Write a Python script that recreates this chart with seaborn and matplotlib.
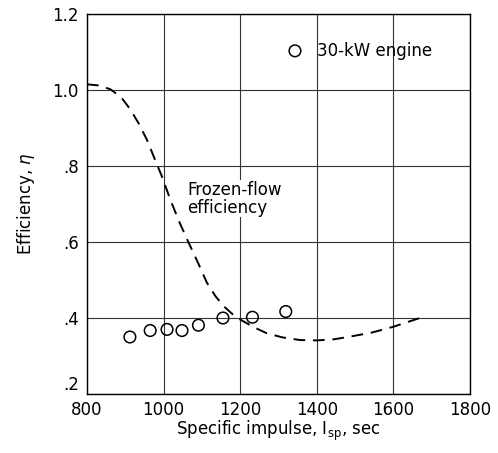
import matplotlib
matplotlib.use("Agg")
import matplotlib.pyplot as plt
import seaborn as sns
import pandas as pd

# Data
engine_isp = [912, 965, 1009, 1048, 1091, 1155, 1232, 1319]
engine_eff = [0.350, 0.367, 0.370, 0.367, 0.381, 0.400, 0.402, 0.417]

frozen_isp = [800, 830, 861, 890, 913, 935, 956, 975, 995, 1017, 1040, 1065, 1090, 1113,
              1135, 1156, 1180, 1200, 1235, 1269, 1310, 1356, 1400, 1445, 1487, 1545, 1600, 1669]
frozen_eff = [1.015, 1.012, 1.002, 0.980, 0.949, 0.912, 0.870, 0.823, 0.774, 0.713, 0.655, 0.599,
              0.545, 0.493, 0.458, 0.432, 0.410, 0.396, 0.376, 0.360, 0.349, 0.342, 0.341, 0.344,
              0.351, 0.362, 0.377, 0.400]

x_ticks = [800, 1000, 1200, 1400, 1600, 1800]
y_ticks = [0.2, 0.4, 0.6, 0.8, 1.0, 1.2]
y_tick_labels = [".2", ".4", ".6", ".8", "1.0", "1.2"]

sns.set_theme(style="white")
plt.rcParams['font.family'] = ['DejaVu Sans']
plt.rcParams['mathtext.fontset'] = 'dejavusans'

fig = plt.figure(figsize=(4.98, 4.53), dpi=100)
ax = fig.add_axes([87/498, 1-394/453, (470-87)/498, (394-14)/453])

df_curve = pd.DataFrame({"isp": frozen_isp, "eff": frozen_eff})
df_pts = pd.DataFrame({"isp": engine_isp, "eff": engine_eff})

sns.lineplot(data=df_curve, x="isp", y="eff", ax=ax, color="black",
             linewidth=1.4, sort=False)
ax.lines[-1].set_dashes([6, 4])
sns.scatterplot(data=df_pts, x="isp", y="eff", ax=ax, s=70, marker="o",
                facecolor="none", edgecolor="black", linewidth=1.1, zorder=3)

ax.set_xlim(800, 1800)
ax.set_ylim(0.2, 1.2)
ax.set_xticks(x_ticks)
ax.set_yticks(y_ticks)
ax.set_yticklabels(y_tick_labels)
ax.tick_params(axis="both", labelsize=12, length=0, colors="black")
ax.tick_params(axis="y", pad=6)
ax.tick_params(axis="x", pad=5)
ax.get_yticklabels()[0].set_verticalalignment("bottom")
ax.grid(True, color="#333333", linewidth=0.8)
for s in ax.spines.values():
    s.set_color("black")
    s.set_linewidth(1.0)

ax.set_xlabel(r"Specific impulse, I$_{\mathrm{sp}}$, sec", fontsize=12, color="black", labelpad=0)
ax.set_ylabel(r"Efficiency, $\eta$", fontsize=12, color="black", labelpad=11)

ax.text(1061, 0.738, "Frozen-flow", fontsize=12, va="center", ha="left", color="black",
        bbox=dict(facecolor="white", edgecolor="none", pad=0.5))
ax.text(1061, 0.690, "efficiency", fontsize=12, va="center", ha="left", color="black",
        bbox=dict(facecolor="white", edgecolor="none", pad=0.5))

ax.scatter([1343], [1.103], s=70, marker="o", facecolor="none", edgecolor="black",
           linewidth=1.1, zorder=3)
ax.text(1400, 1.103, "30-kW engine", fontsize=12, va="center", ha="left", color="black")

fig.savefig("out.png", dpi=100)
